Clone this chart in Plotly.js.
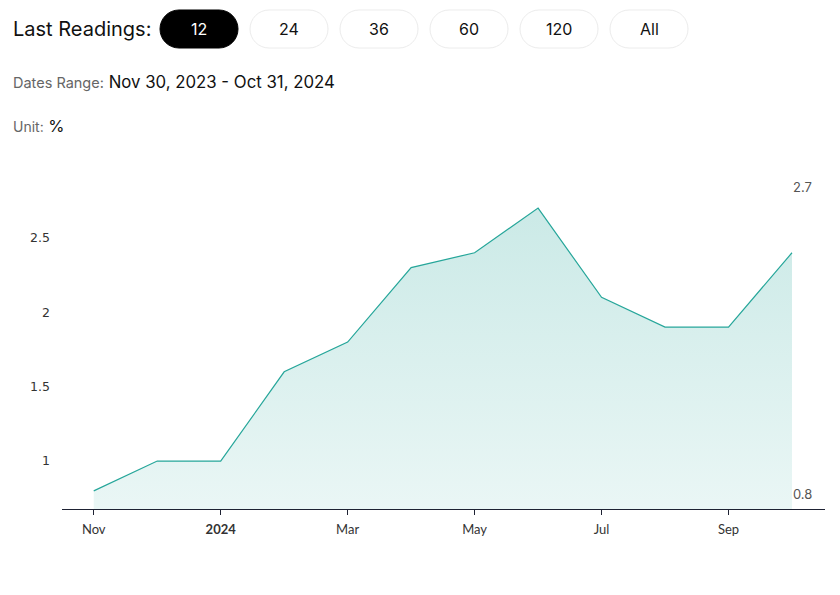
<!DOCTYPE html>
<html>
<head>
<meta charset="utf-8">
<script src="https://cdn.plot.ly/plotly-3.0.1.min.js"></script>
<style>html,body{margin:0;padding:0;background:#fff;}#chart{width:840px;height:595px;}</style>
</head>
<body>
<div id="chart"></div>
<script>
// Data
const months = ['Nov 2023','Dec 2023','Jan 2024','Feb 2024','Mar 2024','Apr 2024','May 2024','Jun 2024','Jul 2024','Aug 2024','Sep 2024','Oct 2024'];
const values = [0.8, 1.0, 1.0, 1.6, 1.8, 2.3, 2.4, 2.7, 2.1, 1.9, 1.9, 2.4];
const tickIdx = [0, 2, 4, 6, 8, 10];
const tickLabels = ['Nov', '<b>2024</b>', 'Mar', 'May', 'Jul', 'Sep'];
const buttonLabels = ['12', '24', '36', '60', '120', 'All'];
const maxLabel = '2.7';
const minLabel = '0.8';

const xIndex = months.map((m, i) => i);

// Plot area in pixels
const L = 62, R = 825, T = 170, B = 509, W = 840, H = 595;
const px = x => (x - L) / (R - L);
const py = y => (B - y) / (B - T);

function pill(x0, y0, x1, y1) {
  const r = (y1 - y0) / 2;
  const k = r * 0.5523;
  const ym = (y0 + y1) / 2;
  const P = (x, y) => px(x).toFixed(5) + ',' + py(y).toFixed(5);
  return 'M' + P(x0 + r, y0) + ' L' + P(x1 - r, y0) +
    ' C' + P(x1 - r + k, y0) + ' ' + P(x1, ym - k) + ' ' + P(x1, ym) +
    ' C' + P(x1, ym + k) + ' ' + P(x1 - r + k, y1) + ' ' + P(x1 - r, y1) +
    ' L' + P(x0 + r, y1) +
    ' C' + P(x0 + r - k, y1) + ' ' + P(x0, ym + k) + ' ' + P(x0, ym) +
    ' C' + P(x0, ym - k) + ' ' + P(x0 + r - k, y0) + ' ' + P(x0 + r, y0) + ' Z';
}

const shapes = [];
const annotations = [];
const hdrFont = 'Inter, "Noto Sans", sans-serif';

annotations.push({xref:'paper', yref:'paper', x: px(11), y: py(29), xanchor:'left', yanchor:'middle',
  text:'Last Readings:', showarrow:false, font:{family:hdrFont, size:20, color:'#111'}});

buttonLabels.forEach((b, i) => {
  const x0 = 160 + i * 90, x1 = x0 + 78;
  const active = i === 0;
  shapes.push({type:'path', xref:'paper', yref:'paper', path: pill(x0, 10, x1, 48),
    fillcolor: active ? '#000' : '#fff', line:{color: active ? '#000' : '#ececec', width:1}, layer:'above'});
  annotations.push({xref:'paper', yref:'paper', x: px((x0 + x1) / 2), y: py(29), xanchor:'center', yanchor:'middle',
    text: b, showarrow:false, font:{family:hdrFont, size:16, color: active ? '#fff' : '#111'}});
});

annotations.push({xref:'paper', yref:'paper', x: px(11), y: py(82), xanchor:'left', yanchor:'middle',
  text:'<span style="font-size:14.5px;color:#666">Dates Range:</span> <span style="font-size:16.8px;color:#111">Nov 30, 2023 - Oct 31, 2024</span>',
  showarrow:false, font:{family:hdrFont, size:16.8, color:'#111'}});
annotations.push({xref:'paper', yref:'paper', x: px(11), y: py(126), xanchor:'left', yanchor:'middle',
  text:'<span style="font-size:14px;color:#666">Unit:</span> <span style="font-size:16.5px;color:#111">%</span>',
  showarrow:false, font:{family:hdrFont, size:16.5, color:'#111'}});

const last = xIndex.length - 1;
annotations.push({xref:'x', yref:'paper', x: last, y: py(187), xanchor:'left', yanchor:'middle', xshift:-1,
  text:maxLabel, showarrow:false, font:{family:'Inter, sans-serif', size:13, color:'#555'}});
annotations.push({xref:'x', yref:'paper', x: last, y: py(494), xanchor:'left', yanchor:'middle', xshift:-1,
  text:minLabel, showarrow:false, font:{family:'Inter, sans-serif', size:13, color:'#555'}});

const trace = {
  x: xIndex, y: values, type:'scatter', mode:'lines',
  line:{color:'#26a69a', width:1.2},
  fill:'tozeroy',
  fillgradient:{type:'vertical', colorscale:[[0,'rgba(38,166,154,0.05)'],[1,'rgba(38,166,154,0.24)']]},
  hoverinfo:'skip'
};

const layout = {
  width: W, height: H,
  margin:{l:L, r:W - R, t:T, b:H - B},
  paper_bgcolor:'#fff', plot_bgcolor:'#fff',
  showlegend:false,
  xaxis:{range:[-0.5, 11.52], tickmode:'array', tickvals:tickIdx, ticktext:tickLabels,
    showgrid:false, zeroline:false, showline:true, linecolor:'#1e2233', linewidth:1.2,
    ticks:'outside', ticklen:5, tickcolor:'#1e2233', ticklabelstandoff:3,
    tickfont:{family:'Lato, sans-serif', size:13, color:'#333'}},
  yaxis:{range:[0.678, 2.956], tickmode:'array', tickvals:[1, 1.5, 2, 2.5], ticktext:['1','1.5','2','2.5'],
    showgrid:false, zeroline:false, showline:false, ticks:'', ticklabelstandoff:11,
    tickfont:{family:'DejaVu Sans, sans-serif', size:12.5, color:'#333'}},
  shapes: shapes,
  annotations: annotations
};

Plotly.newPlot('chart', [trace], layout, {staticPlot:true, displayModeBar:false});
</script>
</body>
</html>
